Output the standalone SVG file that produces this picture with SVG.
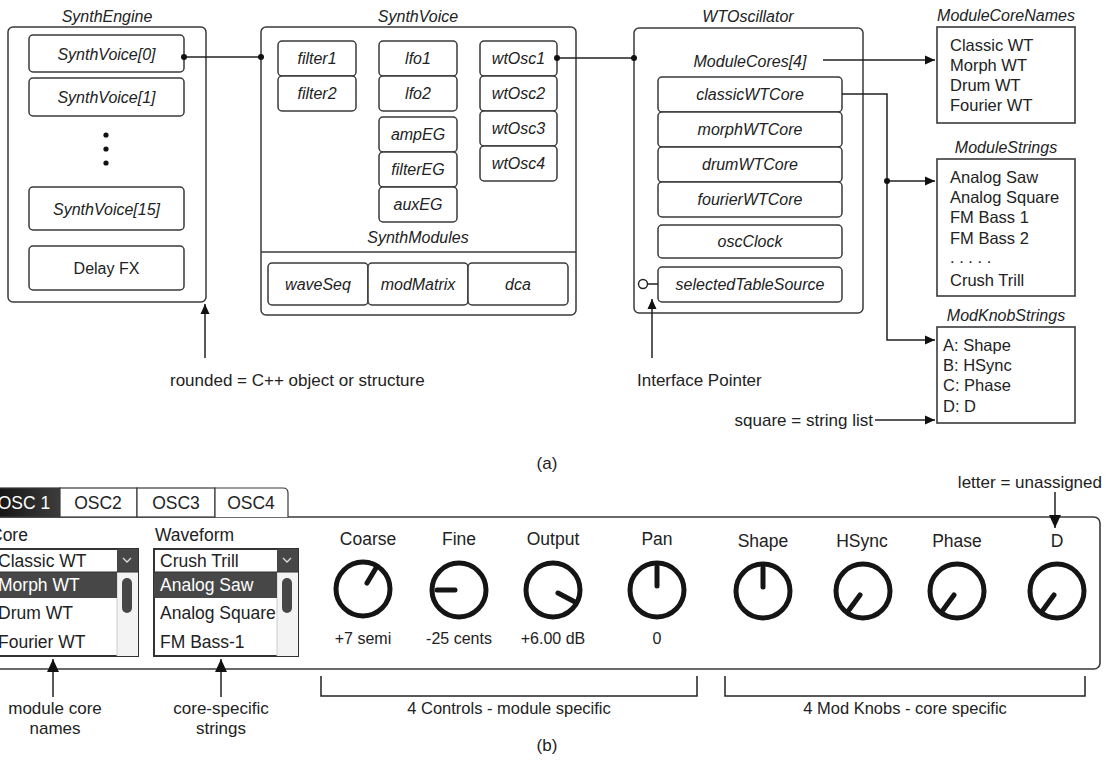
<svg xmlns="http://www.w3.org/2000/svg" width="1110" height="761" viewBox="0 0 1110 761">
<style>
.t{font-family:"Liberation Sans",Arial,sans-serif;font-size:16px;fill:#222;dominant-baseline:central}
.it{font-style:italic}
.m{text-anchor:middle}
.e{text-anchor:end}
.box{fill:#fff;stroke:#3a3a3a;stroke-width:1.5}
.sq{fill:#fff;stroke:#3a3a3a;stroke-width:1.6}
.ln{fill:none;stroke:#222;stroke-width:1.5}
.lst{font-size:16.5px}
.lg{font-size:17px}
.b{font-size:17.5px}
.v{font-size:16px}
.knob{fill:none;stroke:#151515;stroke-width:5}
.ptr{stroke:#151515;stroke-width:5;stroke-linecap:round}
.dk{fill:#474747}
</style>
<defs>
<marker id="ar" viewBox="0 0 10 10" refX="10" refY="5" markerWidth="10" markerHeight="10" markerUnits="userSpaceOnUse" orient="auto">
<path d="M0,0.5 L10,5 L0,9.5 Z" fill="#111"/>
</marker>
<marker id="arb" viewBox="0 0 12 12" refX="12" refY="6" markerWidth="13" markerHeight="13" markerUnits="userSpaceOnUse" orient="auto">
<path d="M0,0.5 L12,6 L0,11.5 Z" fill="#111"/>
</marker>
<linearGradient id="tabg" x1="0" y1="0" x2="1" y2="0">
<stop offset="0" stop-color="#111"/>
<stop offset="1" stop-color="#3c3c3c"/>
</linearGradient>
</defs>

<!-- Part (a) -->
<g id="SynthEngine">
<text class="t it m" x="107" y="16">SynthEngine</text>
<rect class="box" x="8" y="27" width="198" height="275" rx="5"/>
<rect class="box" x="29" y="35" width="155" height="37" rx="4"/>
<text class="t it m" x="106.5" y="54">SynthVoice[0]</text>
<rect class="box" x="29" y="78" width="155" height="38" rx="4"/>
<text class="t it m" x="106.5" y="97">SynthVoice[1]</text>
<circle cx="106" cy="135" r="2.6" fill="#111"/>
<circle cx="106" cy="149" r="2.6" fill="#111"/>
<circle cx="106" cy="163" r="2.6" fill="#111"/>
<rect class="box" x="29" y="187" width="155" height="43" rx="4"/>
<text class="t it m" x="106.5" y="209">SynthVoice[15]</text>
<rect class="box" x="29" y="246" width="155" height="44" rx="4"/>
<text class="t m" x="106.5" y="268">Delay FX</text>
</g>

<g id="SynthVoice">
<text class="t it m" x="418" y="16">SynthVoice</text>
<rect class="box" x="261" y="27" width="315" height="288" rx="5"/>
<line x1="261" y1="252" x2="576" y2="252" stroke="#3a3a3a" stroke-width="1.5"/>
<rect class="box" x="278" y="41" width="78" height="35" rx="4"/>
<text class="t it m" x="317" y="58.5">filter1</text>
<rect class="box" x="278" y="76" width="78" height="35" rx="4"/>
<text class="t it m" x="317" y="93.5">filter2</text>
<rect class="box" x="379" y="41" width="78" height="35" rx="4"/>
<text class="t it m" x="418" y="58.5">lfo1</text>
<rect class="box" x="379" y="76" width="78" height="35" rx="4"/>
<text class="t it m" x="418" y="93.5">lfo2</text>
<rect class="box" x="379" y="117" width="78" height="35" rx="4"/>
<text class="t it m" x="418" y="134.5">ampEG</text>
<rect class="box" x="379" y="152" width="78" height="35" rx="4"/>
<text class="t it m" x="418" y="169.5">filterEG</text>
<rect class="box" x="379" y="187" width="78" height="35" rx="4"/>
<text class="t it m" x="418" y="204.5">auxEG</text>
<rect class="box" x="480" y="41" width="77" height="35" rx="4"/>
<text class="t it m" x="518.5" y="58.5">wtOsc1</text>
<rect class="box" x="480" y="76" width="77" height="35" rx="4"/>
<text class="t it m" x="518.5" y="93.5">wtOsc2</text>
<rect class="box" x="480" y="111" width="77" height="35" rx="4"/>
<text class="t it m" x="518.5" y="128.5">wtOsc3</text>
<rect class="box" x="480" y="146" width="77" height="35" rx="4"/>
<text class="t it m" x="518.5" y="163.5">wtOsc4</text>
<text class="t it m" x="418" y="237">SynthModules</text>
<rect class="box" x="268" y="263" width="100" height="42" rx="4"/>
<text class="t it m" x="318" y="284">waveSeq</text>
<rect class="box" x="368" y="263" width="100" height="42" rx="4"/>
<text class="t it m" x="418" y="284">modMatrix</text>
<rect class="box" x="468" y="263" width="100" height="42" rx="4"/>
<text class="t it m" x="518" y="284">dca</text>
</g>

<g id="WTOscillator">
<text class="t it m" x="748" y="16">WTOscillator</text>
<rect class="box" x="634" y="28" width="229" height="285" rx="5"/>
<text class="t it m" x="750" y="61">ModuleCores[4]</text>
<rect class="box" x="658" y="77" width="184" height="35" rx="4"/>
<text class="t it m" x="750" y="94.5">classicWTCore</text>
<rect class="box" x="658" y="112" width="184" height="35" rx="4"/>
<text class="t it m" x="750" y="129.5">morphWTCore</text>
<rect class="box" x="658" y="147" width="184" height="35" rx="4"/>
<text class="t it m" x="750" y="164.5">drumWTCore</text>
<rect class="box" x="658" y="182" width="184" height="35" rx="4"/>
<text class="t it m" x="750" y="199.5">fourierWTCore</text>
<rect class="box" x="658" y="225" width="184" height="33" rx="4"/>
<text class="t it m" x="750" y="241.5">oscClock</text>
<rect class="box" x="658" y="267" width="184" height="35" rx="4"/>
<text class="t it m" x="750" y="284.5">selectedTableSource</text>
<circle cx="643" cy="284" r="4.5" fill="#fff" stroke="#222" stroke-width="1.4"/>
<line class="ln" x1="647.5" y1="284" x2="658" y2="284"/>
</g>

<g id="ModuleCoreNames">
<text class="t it m" x="1006" y="15">ModuleCoreNames</text>
<rect class="sq" x="937" y="27" width="138" height="96"/>
<text class="t lst" x="950" y="45">Classic WT</text>
<text class="t lst" x="950" y="65">Morph WT</text>
<text class="t lst" x="950" y="85">Drum WT</text>
<text class="t lst" x="950" y="105">Fourier WT</text>
</g>

<g id="ModuleStrings">
<text class="t it m" x="1006" y="147">ModuleStrings</text>
<rect class="sq" x="937" y="159" width="138" height="137"/>
<text class="t lst" x="950" y="177">Analog Saw</text>
<text class="t lst" x="950" y="197">Analog Square</text>
<text class="t lst" x="950" y="217">FM Bass 1</text>
<text class="t lst" x="950" y="238">FM Bass 2</text>
<text class="t lst" x="950" y="257">. . . . .</text>
<text class="t lst" x="950" y="280">Crush Trill</text>
</g>

<g id="ModKnobStrings">
<text class="t it m" x="1006" y="315">ModKnobStrings</text>
<rect class="sq" x="937" y="327" width="138" height="96"/>
<text class="t lst" x="943" y="345">A: Shape</text>
<text class="t lst" x="943" y="365">B: HSync</text>
<text class="t lst" x="943" y="385">C: Phase</text>
<text class="t lst" x="943" y="406">D: D</text>
</g>

<g id="legend">
<text class="t lg" x="170" y="380">rounded = C++ object or structure</text>
<text class="t lg" x="637" y="380">Interface Pointer</text>
<text class="t lg e" x="873" y="420">square = string list</text>
<text class="t lg m" x="547" y="463">(a)</text>
</g>

<!-- Part (b) -->
<g id="panel">
<rect x="-20" y="517" width="1120" height="152" rx="6" fill="#fff" stroke="#3a3a3a" stroke-width="1.6"/>
</g>

<g id="tabs">
<rect x="-10" y="488" width="70" height="29" fill="url(#tabg)" stroke="#3a3a3a" stroke-width="1.2"/>
<text class="t b m" x="24" y="503" style="fill:#fff">OSC 1</text>
<rect x="60" y="488" width="77" height="29" fill="#fff" stroke="#3a3a3a" stroke-width="1.2"/>
<text class="t b m" x="98" y="503">OSC2</text>
<rect x="137" y="488" width="78" height="29" fill="#fff" stroke="#3a3a3a" stroke-width="1.2"/>
<text class="t b m" x="176" y="503">OSC3</text>
<path d="M215,517 V488 H283 Q288,488 288,493 V517" fill="#fff" stroke="#3a3a3a" stroke-width="1.2"/>
<text class="t b m" x="251" y="503">OSC4</text>
</g>

<g id="CoreList">
<text class="t b" x="-10" y="535">Core</text>
<rect x="-20" y="549" width="158" height="107" fill="#fff" stroke="#333" stroke-width="2"/>
<rect x="117" y="572" width="21" height="84" fill="#f3f3f3"/>
<line x1="117" y1="572" x2="117" y2="656" stroke="#ccc" stroke-width="1"/>
<rect class="dk" x="-20" y="572" width="137" height="26"/>
<rect class="dk" x="117" y="549" width="21" height="23"/>
<path d="M123,558 l4,4 l4,-4" fill="none" stroke="#ddd" stroke-width="1.3"/>
<line x1="-20" y1="572" x2="138" y2="572" stroke="#333" stroke-width="1"/>
<rect class="dk" x="122" y="578" width="10" height="35" rx="5"/>
<text class="t b" x="-2" y="561">Classic WT</text>
<text class="t b" x="-2" y="585" style="fill:#fff">Morph WT</text>
<text class="t b" x="-2" y="613">Drum WT</text>
<text class="t b" x="-2" y="642">Fourier WT</text>
<text class="t lg m" x="55" y="708">module core</text>
<text class="t lg m" x="55" y="728">names</text>
</g>

<g id="WaveformList">
<text class="t b" x="155" y="535">Waveform</text>
<rect x="154" y="549" width="144" height="107" fill="#fff" stroke="#333" stroke-width="2"/>
<rect x="277" y="572" width="21" height="84" fill="#f3f3f3"/>
<line x1="277" y1="572" x2="277" y2="656" stroke="#ccc" stroke-width="1"/>
<rect class="dk" x="154" y="572" width="123" height="26"/>
<rect class="dk" x="277" y="549" width="21" height="23"/>
<path d="M283,558 l4,4 l4,-4" fill="none" stroke="#ddd" stroke-width="1.3"/>
<line x1="154" y1="572" x2="298" y2="572" stroke="#333" stroke-width="1"/>
<rect class="dk" x="282" y="578" width="10" height="35" rx="5"/>
<text class="t b" x="160" y="561">Crush Trill</text>
<text class="t b" x="160" y="585" style="fill:#fff">Analog Saw</text>
<text class="t b" x="160" y="613">Analog Square</text>
<text class="t b" x="160" y="642">FM Bass-1</text>
<text class="t lg m" x="221" y="708">core-specific</text>
<text class="t lg m" x="221" y="728">strings</text>
</g>

<g id="Coarse">
<text class="t b m" x="368" y="539">Coarse</text>
<circle class="knob" cx="363" cy="589" r="27"/>
<line class="ptr" x1="367" y1="583" x2="376" y2="568"/>
<text class="t v m" x="363" y="638">+7 semi</text>
</g>
<g id="Fine">
<text class="t b m" x="459" y="539">Fine</text>
<circle class="knob" cx="459" cy="590" r="27"/>
<line class="ptr" x1="455" y1="590" x2="437" y2="590"/>
<text class="t v m" x="459" y="638">-25 cents</text>
</g>
<g id="Output">
<text class="t b m" x="553" y="539">Output</text>
<circle class="knob" cx="553" cy="590" r="27"/>
<line class="ptr" x1="558" y1="593" x2="575" y2="602"/>
<text class="t v m" x="553" y="638">+6.00 dB</text>
</g>
<g id="Pan">
<text class="t b m" x="657" y="539">Pan</text>
<circle class="knob" cx="657" cy="590" r="27"/>
<line class="ptr" x1="657" y1="586" x2="657" y2="567"/>
<text class="t v m" x="657" y="638">0</text>
</g>
<g id="Shape">
<text class="t b m" x="763" y="541">Shape</text>
<circle class="knob" cx="763" cy="591" r="27"/>
<line class="ptr" x1="763" y1="587" x2="763" y2="568"/>
</g>
<g id="HSync">
<text class="t b m" x="862" y="541">HSync</text>
<circle class="knob" cx="863" cy="591" r="27"/>
<line class="ptr" x1="860" y1="595" x2="849" y2="610"/>
</g>
<g id="Phase">
<text class="t b m" x="957" y="541">Phase</text>
<circle class="knob" cx="957" cy="591" r="27"/>
<line class="ptr" x1="954" y1="595" x2="943" y2="610"/>
</g>
<g id="D">
<text class="t b m" x="1057" y="541">D</text>
<circle class="knob" cx="1057" cy="591" r="27"/>
<line class="ptr" x1="1054" y1="595" x2="1043" y2="610"/>
</g>

<g id="labels-b">
<text class="t lg e" x="1102" y="482">letter = unassigned</text>
<text class="t v m" x="509" y="708" style="font-size:16.5px">4 Controls - module specific</text>
<text class="t v m" x="905" y="708" style="font-size:16.5px">4 Mod Knobs - core specific</text>
<text class="t lg m" x="547" y="745">(b)</text>
</g>

<g id="connectors">
<line class="ln" x1="184" y1="57" x2="261" y2="57"/>
<circle cx="184" cy="57" r="3" fill="#111"/>
<circle cx="261" cy="57" r="3" fill="#111"/>
<line class="ln" x1="557" y1="58" x2="634" y2="58"/>
<circle cx="557" cy="58" r="3" fill="#111"/>
<circle cx="634" cy="58" r="3" fill="#111"/>
<line class="ln" x1="823" y1="60" x2="935" y2="60" marker-end="url(#ar)"/>
<path class="ln" d="M842,94 H887 V340 H935" marker-end="url(#ar)"/>
<line class="ln" x1="887" y1="181" x2="935" y2="181" marker-end="url(#ar)"/>
<circle cx="887" cy="181" r="3" fill="#111"/>
<line class="ln" x1="205" y1="358" x2="205" y2="304" marker-end="url(#ar)"/>
<line class="ln" x1="652" y1="358" x2="652" y2="299" marker-end="url(#ar)"/>
<line class="ln" x1="875" y1="420" x2="935" y2="420" marker-end="url(#ar)"/>
<line class="ln" x1="53" y1="697" x2="53" y2="659" marker-end="url(#arb)"/>
<line class="ln" x1="221" y1="697" x2="221" y2="659" marker-end="url(#arb)"/>
<line class="ln" x1="1055" y1="492" x2="1055" y2="528" marker-end="url(#arb)"/>
<path class="ln" d="M321,676 V696 H697 V676"/>
<path class="ln" d="M725,676 V696 H1085 V676"/>
</g>
</svg>
